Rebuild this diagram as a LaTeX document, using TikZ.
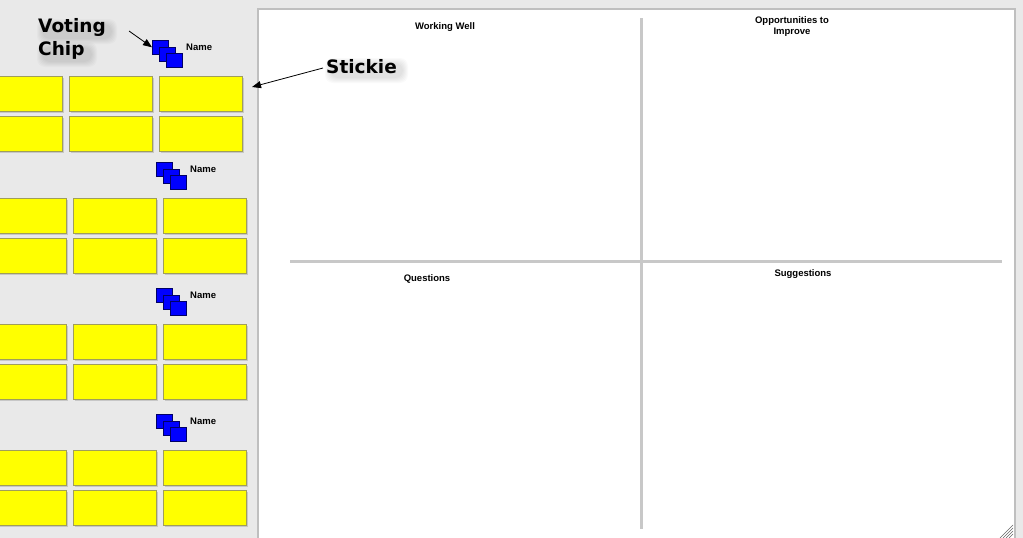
\documentclass[tikz,border=0pt]{standalone}
\usepackage{fontspec}
\setmainfont{Liberation Sans}
\newfontfamily\bigfont{DejaVu Sans}
\usetikzlibrary{arrows.meta}
\definecolor{bggray}{HTML}{E9E9E9}
\definecolor{stickyfill}{HTML}{FFFF00}
\definecolor{stickyline}{HTML}{A09E5A}
\definecolor{chipblue}{HTML}{0000FF}
\definecolor{divgray}{HTML}{C8C8C8}
\tikzset{
  stickie/.style={rectangle, draw=stickyline, line width=0.8pt, fill=stickyfill,
    minimum width=83pt, minimum height=35pt, inner sep=0pt, anchor=north west},
  chip/.style={rectangle, draw=blue!40!black, line width=0.6pt, fill=chipblue,
    minimum width=16pt, minimum height=14pt, inner sep=0pt, anchor=north west},
  namelbl/.style={font=\bfseries\fontsize{9.5}{10}\selectfont, anchor=west, inner sep=0pt},
  quadlbl/.style={font=\bfseries\fontsize{9.5}{11}\selectfont, align=center, inner sep=0pt},
  biglbl/.style={font=\bigfont\bfseries\fontsize{18.5}{23}\selectfont, align=left, inner sep=0pt},
  pointer/.style={-{Triangle[length=9pt,width=7pt]}, line width=0.8pt, black},
  divider/.style={draw=divgray, line width=3pt}
}
\begin{document}
\begin{tikzpicture}[x=1pt,y=-1pt]
\useasboundingbox (0,0) rectangle (1023,538);
\clip (0,0) rectangle (1023,538);
\fill[bggray] (0,0) rectangle (1023,538);
% white board
\node[draw=black!25, line width=1.5pt, fill=white, inner sep=0pt, anchor=north west,
  minimum width=757pt, minimum height=545pt] (board) at (257,8) {};
% dividers
\coordinate (vtop) at (641,18);
\coordinate (vbot) at (641,529);
\coordinate (hleft) at (290,261);
\coordinate (hright) at (1002,261);
\draw[divider] (vtop) -- (vbot);
\draw[divider] (hleft) -- (hright);
% quadrant labels
\node[quadlbl] (ww) at (445,27) {Working Well};
\node[quadlbl] (opp) at (792,27) {Opportunities to\\Improve};
\node[quadlbl] (qq) at (427,279) {Questions};
\node[quadlbl] (sg) at (803,274) {Suggestions};
% resize grip
\foreach \k in {0,3,6,9}
  \draw[black!60, line width=0.5pt] (1000+\k,538) -- (1013,525+\k);
% sticky groups
\foreach \g/\dx/\top in {1/0/76, 2/4/198, 3/4/324, 4/4/450} {
  \foreach \c/\cx in {1/-21, 2/69, 3/159} {
    \foreach \r/\ry in {1/0, 2/40} {
      \fill[black!22] (\cx+\dx+1.5,\top+\ry+1.5) rectangle ++(83,35);
      \node[stickie] (s\g\c\r) at (\cx+\dx,\top+\ry) {};
    }
  }
  \node[chip] (c\g1) at (152+\dx,\top-36) {};
  \node[chip] (c\g2) at (159+\dx,\top-29.5) {};
  \node[chip] (c\g3) at (166+\dx,\top-23) {};
  \node[namelbl] (n\g) at (186+\dx,\top-29) {Name};
}
% soft shadows behind callout labels
\foreach \e in {0,1,...,5} {
  \fill[black, opacity=0.018, rounded corners=8pt] (42-\e,24-\e) rectangle (112+\e,39+\e);
  \fill[black, opacity=0.018, rounded corners=8pt] (42-\e,47-\e) rectangle (92+\e,62+\e);
  \fill[black, opacity=0.018, rounded corners=8pt] (330-\e,63-\e) rectangle (403+\e,78+\e);
}
\node[biglbl, anchor=north west] (vc) at (38,18) {Voting\\Chip};
\node[biglbl, anchor=west] (st) at (326,67) {Stickie};
% pointers
\coordinate (vcstart) at (129,31);
\coordinate (ststart) at (323,68);
\coordinate (stend) at (252,87);
\draw[pointer] (vcstart) -- (c11.west);
\draw[pointer] (ststart) -- (stend);
\end{tikzpicture}
\end{document}
